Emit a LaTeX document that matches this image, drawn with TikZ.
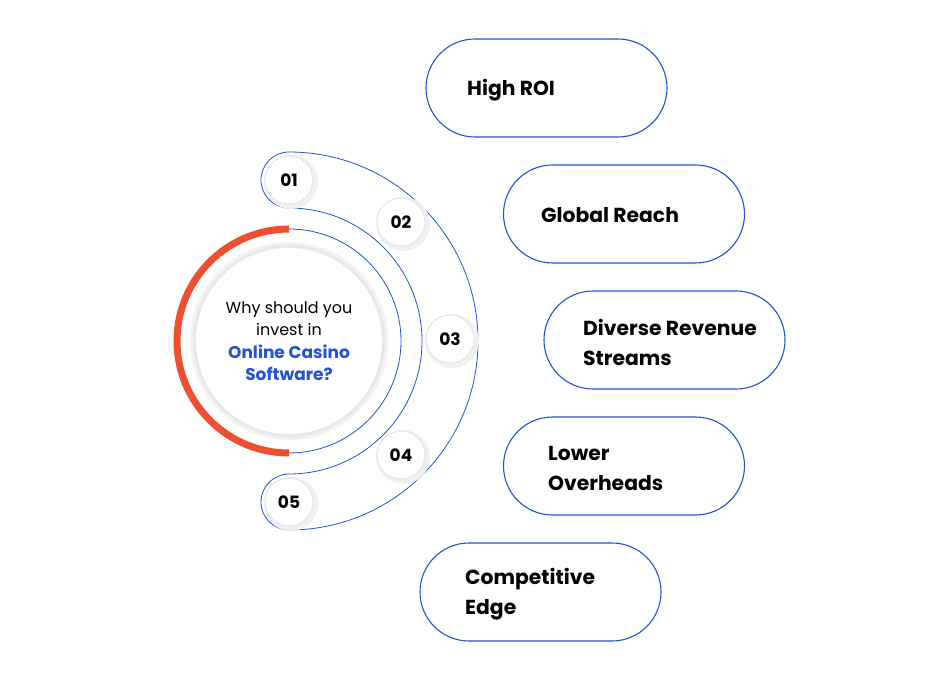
\documentclass[tikz,border=0pt]{standalone}
\usepackage{fontspec}
\setmainfont{Poppins}
\definecolor{cblue}{HTML}{2152D9}
\definecolor{cred}{HTML}{F04E30}
\begin{document}
\begin{tikzpicture}[x=1pt,y=1pt,
  pill/.style={draw=cblue,line width=1.1pt,rounded corners=49pt,minimum width=241pt,minimum height=98pt,fill=white},
  ptext/.style={anchor=west,align=left,font=\fontsize{20.3}{30}\selectfont\bfseries,inner sep=0pt},
  num/.style={circle,fill=white,draw=gray!20,line width=1pt,minimum size=48pt,font=\fontsize{17}{20}\selectfont\bfseries},
  numshadow/.style={circle,fill=gray!12,minimum size=54pt}]
\useasboundingbox (0,0) rectangle (941,680);
% band
\draw[cblue,line width=0.8pt] (289,528) arc[start angle=90,end angle=-90,radius=189]
  arc[start angle=270,end angle=90,radius=28]
  arc[start angle=-90,end angle=90,radius=133]
  arc[start angle=270,end angle=90,radius=28] -- cycle;
% center circle
\fill[gray!10] (289,339) circle[radius=99];
\fill[gray!18] (289,339) circle[radius=96];
\fill[white] (289,339) circle[radius=93];
\draw[cred,line width=7pt] (289,451) arc[start angle=90,end angle=270,radius=112];
\draw[cblue,line width=0.8pt] (289,451) arc[start angle=90,end angle=-90,radius=112];
\node[align=center,font=\fontsize{16}{22.5}\selectfont] (center) at (289,339)
  {Why should you\\invest in\\\textcolor{cblue}{\fontsize{17}{22.5}\selectfont\bfseries Online Casino}\\\textcolor{cblue}{\fontsize{17}{22.5}\selectfont\bfseries Software?}};
% numbers
\node[numshadow] (s1) at (291,498) {};
\node[numshadow] (s2) at (403,456) {};
\node[numshadow] (s3) at (452,339) {};
\node[numshadow] (s4) at (403,223) {};
\node[numshadow] (s5) at (291,176) {};
\node[num] (n1) at (289,500) {01};
\node[num] (n2) at (401,458) {02};
\node[num] (n3) at (450,341) {03};
\node[num] (n4) at (401,225) {04};
\node[num] (n5) at (289,178) {05};
% pills
\node[pill] (p1) at (546.5,592) {};
\node[pill] (p2) at (624,466) {};
\node[pill] (p3) at (664.5,340) {};
\node[pill] (p4) at (624,214) {};
\node[pill] (p5) at (540.5,88) {};
\node[ptext] (t1) at (467,590) {High ROI};
\node[ptext] (t2) at (541,465) {Global Reach};
\node[ptext] (t3) at (583,338) {Diverse Revenue\\Streams};
\node[ptext] (t4) at (548,212) {Lower\\Overheads};
\node[ptext] (t5) at (465,86) {Competitive\\Edge};
\end{tikzpicture}
\end{document}
